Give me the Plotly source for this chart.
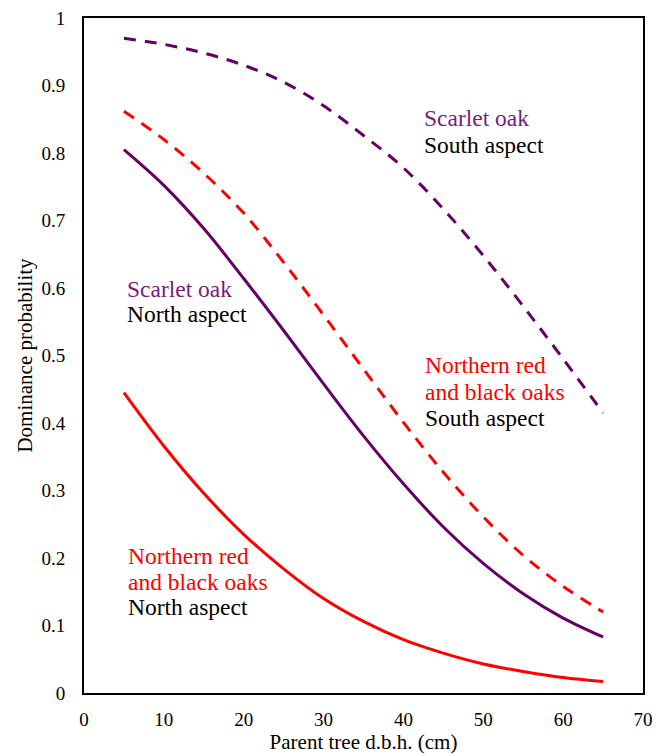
import plotly.graph_objects as go

dbh = [5, 10, 15, 20, 25, 30, 35, 40, 45, 50, 55, 60, 65]
scarlet_south = [0.970, 0.961, 0.948, 0.930, 0.905, 0.870, 0.826, 0.778, 0.717, 0.648, 0.573, 0.495, 0.415]
scarlet_north = [0.805, 0.752, 0.688, 0.614, 0.537, 0.458, 0.381, 0.310, 0.246, 0.192, 0.147, 0.111, 0.083]
redblack_south = [0.862, 0.820, 0.770, 0.711, 0.638, 0.560, 0.480, 0.401, 0.327, 0.261, 0.204, 0.158, 0.120]
redblack_north = [0.445, 0.366, 0.296, 0.235, 0.184, 0.140, 0.106, 0.079, 0.059, 0.043, 0.032, 0.023, 0.017]

PURPLE = "#660066"
PURPLE_TXT = "#7B1C7B"
RED = "#FF0000"
FONT = "Liberation Serif, Tinos, Times New Roman, DejaVu Serif, serif"

fig = go.Figure()
fig.add_trace(go.Scatter(x=dbh, y=scarlet_south, mode="lines", line=dict(color=PURPLE, width=3, dash="12px,9px", shape="spline")))
fig.add_trace(go.Scatter(x=dbh, y=redblack_south, mode="lines", line=dict(color=RED, width=3, dash="12px,9px", shape="spline")))
fig.add_trace(go.Scatter(x=dbh, y=scarlet_north, mode="lines", line=dict(color=PURPLE, width=3, shape="spline")))
fig.add_trace(go.Scatter(x=dbh, y=redblack_north, mode="lines", line=dict(color=RED, width=3, shape="spline")))

labels = [
    (42.3, 0.852, "Scarlet oak", PURPLE_TXT),
    (42.3, 0.812, "South aspect", "black"),
    (5.1, 0.599, "Scarlet oak", PURPLE_TXT),
    (5.1, 0.561, "North aspect", "black"),
    (42.5, 0.486, "Northern red", RED),
    (42.5, 0.446, "and black oaks", RED),
    (42.5, 0.407, "South aspect", "black"),
    (5.3, 0.203, "Northern red", RED),
    (5.3, 0.165, "and black oaks", RED),
    (5.3, 0.127, "North aspect", "black"),
]
for x, y, t, c in labels:
    fig.add_annotation(x=x, y=y, text=t, showarrow=False, xanchor="left", yanchor="middle",
                       font=dict(family=FONT, size=23.5, color=c))

fig.update_layout(
    width=667, height=756,
    margin=dict(l=84, r=24, t=18, b=63),
    paper_bgcolor="white", plot_bgcolor="white",
    showlegend=False,
    font=dict(family=FONT, size=19, color="black"),
)
fig.update_xaxes(range=[0, 70], dtick=10, showgrid=False, zeroline=False, automargin=False,
                 showline=True, linecolor="black", linewidth=2, mirror=True,
                 ticks="", ticklabelstandoff=8,
                 title=dict(text="Parent tree d.b.h. (cm)", font=dict(family=FONT, size=21), standoff=6))
fig.update_yaxes(range=[0, 1], dtick=0.1, showgrid=False, zeroline=False, automargin=False,
                 showline=True, linecolor="black", linewidth=2, mirror=True,
                 ticks="", ticklabelstandoff=13,
                 title=dict(text="Dominance probability", font=dict(family=FONT, size=21), standoff=3))

fig.write_html("out.html", config={"displayModeBar": False})

with open("out.html", "r", encoding="utf-8") as f:
    html = f.read()
html = html.replace("<body>", '<body style="margin:0;padding:0;">', 1)
html = html.replace("<head>", '<head><style>html,body{margin:0;padding:0;}</style>', 1)
with open("out.html", "w", encoding="utf-8") as f:
    f.write(html)
